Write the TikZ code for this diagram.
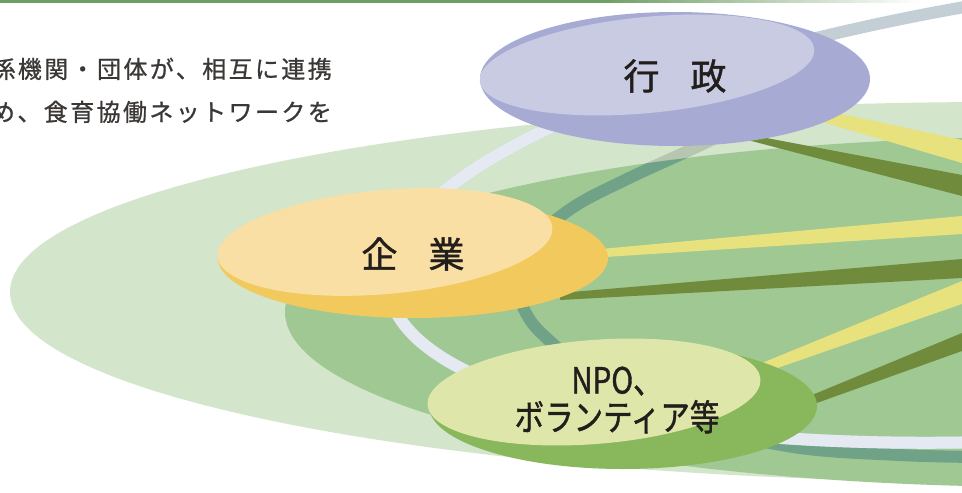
\documentclass[tikz,border=0pt]{standalone}
\usepackage{fontspec}
\usepackage{graphicx}
\newfontfamily\jp[FakeBold=1.2]{Noto Sans CJK JP}
\newfontfamily\jpsp[LetterSpace=10,FakeBold=0.8]{Noto Sans CJK JP}
\definecolor{topline}{HTML}{6E9E63}
\definecolor{outerG}{HTML}{D3E5CB}
\definecolor{innerG}{HTML}{9FC893}
\definecolor{ringW}{HTML}{E5E9F1}
\definecolor{ringG}{HTML}{C3CFD4}
\definecolor{tealL}{HTML}{B6C6B1}
\definecolor{tealD}{HTML}{6FA287}
\definecolor{bandY}{HTML}{E7E17E}
\definecolor{bandO}{HTML}{6F8B3B}
\definecolor{gyL}{HTML}{C9CBE3}
\definecolor{gyD}{HTML}{A7ABD4}
\definecolor{kiL}{HTML}{FADFA4}
\definecolor{kiD}{HTML}{F2C95C}
\definecolor{npL}{HTML}{DFE6AA}
\definecolor{npD}{HTML}{88B85B}
\definecolor{txt}{HTML}{221E1B}
\definecolor{txtG}{HTML}{3A3735}
\begin{document}
\begin{tikzpicture}[x=1pt,y=-1pt,
  lbl/.style={inner sep=0pt,text=txt,font=\jp\fontsize{36}{37}\selectfont},
  intro/.style={inner sep=0pt,text=txtG,anchor=base east,font=\jpsp\fontsize{24}{24}\selectfont},
  ybandst/.style={fill=bandY},
  obandst/.style={fill=bandO},
  whitering/.style={line width=12pt},
  tealring/.style={line width=12pt}
]
\useasboundingbox (0,0) rectangle (962,493);
\clip (0,0) rectangle (962,493);
\fill[white] (0,0) rectangle (962,493);
% top rule
\fill[topline] (0,0) rectangle (600,2.6);
\shade[left color=topline,right color=white] (600,0) rectangle (920,2.6);
% green fields
\fill[outerG] (1000,292) ellipse [x radius=990,y radius=190];
\fill[innerG] (1050,312) ellipse [x radius=765,y radius=175];
% teal ring, lower right part (below the white ring)
\begin{scope}
  \clip (1050,312) ellipse [x radius=765,y radius=175];
  \draw[tealD,tealring] plot[smooth,tension=0.6] coordinates {(700,428) (800,448) (900,455) (975,457)};
\end{scope}
% white ring
\begin{scope}[shift={(1179,204)},rotate=6]
  \draw[ringG,whitering] (0,0) ellipse [x radius=795,y radius=225];
\end{scope}
\begin{scope}
  \clip (1000,292) ellipse [x radius=990,y radius=190];
  \begin{scope}[shift={(1179,204)},rotate=6]
    \draw[ringW,whitering] (0,0) ellipse [x radius=795,y radius=225];
  \end{scope}
\end{scope}
% teal ring, left part
\def\tealpath{plot[smooth,tension=0.6] coordinates {(775,110) (690,150) (625,180) (572,208) (532,243) (517,280) (527,315) (552,343) (610,390) (700,428)}}
\draw[tealL,tealring] \tealpath;
\begin{scope}
  \clip (1050,312) ellipse [x radius=765,y radius=175];
  \draw[tealD,tealring] \tealpath;
\end{scope}
% bands toward the hub on the right
\coordinate (hubY1a) at (962,140); \coordinate (hubY1b) at (962,163);
\coordinate (hubO1a) at (962,175); \coordinate (hubO1b) at (962,196);
\coordinate (hubY2a) at (962,216); \coordinate (hubY2b) at (962,234);
\coordinate (hubO2a) at (962,259); \coordinate (hubO2b) at (962,278);
\coordinate (hubY3a) at (962,281); \coordinate (hubY3b) at (962,304);
\coordinate (hubO3a) at (962,333); \coordinate (hubO3b) at (962,351);
\fill[ybandst] (795,104) -- (hubY1a) -- (hubY1b) -- (795,114) -- cycle;
\fill[obandst] (740,133) -- (hubO1a) -- (hubO1b) -- (740,138) -- cycle;
\fill[ybandst] (590,250) -- (hubY2a) -- (hubY2b) -- (590,258) -- cycle;
\fill[obandst] (560,293) -- (hubO2a) -- (hubO2b) -- (560,300) -- cycle;
\fill[ybandst] (740,372) -- (hubY3a) -- (hubY3b) -- (740,381) -- cycle;
\fill[obandst] (800,400) -- (hubO3a) -- (hubO3b) -- (800,409) -- cycle;
% discs
\fill[gyD] (675,79) ellipse [x radius=195,y radius=67];
\fill[gyL,shift={(647,65)},rotate=5.5] (0,0) ellipse [x radius=168,y radius=48];
\fill[kiD] (413,258) ellipse [x radius=195,y radius=60];
\fill[kiL,shift={(385,242)},rotate=5] (0,0) ellipse [x radius=168,y radius=52];
\fill[npD] (623,406) ellipse [x radius=194,y radius=63];
\fill[npL,shift={(594,392)},rotate=4.5] (0,0) ellipse [x radius=167,y radius=52];
% labels
\node[lbl] (gyosei) at (675,76) {行\hspace{31pt}政};
\node[lbl] (kigyo) at (413,254) {企\hspace{31pt}業};
\node[lbl,align=center] (npo) at (617,400) {\scalebox{0.82}[1]{NPO、}\\\scalebox{0.82}[1]{ボランティア等}};
% intro text
\node[intro] (intro1) at (332,78) {係機関・団体が、相互に連携};
\node[intro] (intro2) at (332,121) {め、食育協働ネットワークを};
\end{tikzpicture}
\end{document}
